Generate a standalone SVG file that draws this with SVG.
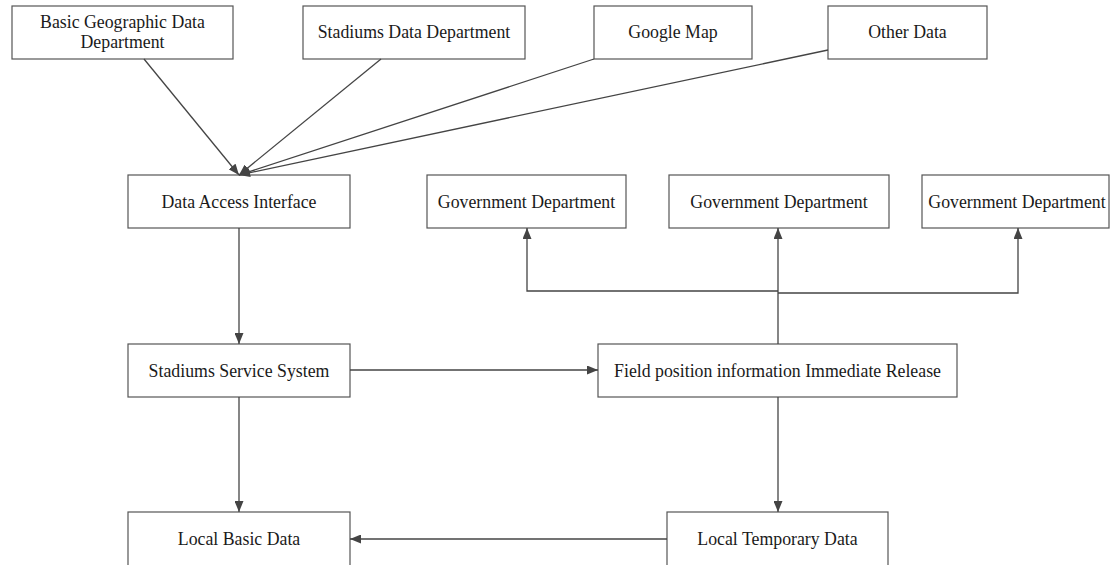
<svg xmlns="http://www.w3.org/2000/svg" width="1110" height="565" viewBox="0 0 1110 565">
  <style>
    .box { fill: #ffffff; stroke: #555555; stroke-width: 1.2; }
    .label { font-family: "Liberation Serif", "Times New Roman", serif; font-size: 17.8px; fill: #1a1a1a; text-anchor: middle; }
    .edge { fill: none; stroke: #444444; stroke-width: 1.3; }
  </style>
  <defs>
    <marker id="arrow" markerUnits="userSpaceOnUse" markerWidth="11" markerHeight="9" refX="11" refY="4.5" orient="auto">
      <path d="M0,0 L11,4.5 L0,9 z" fill="#444444"/>
    </marker>
  </defs>
  <rect width="1110" height="565" fill="#ffffff"/>

  <!-- sources -->
  <g id="basic-geo">
    <rect class="box" x="12" y="6" width="221" height="53"/>
    <text class="label" x="122.5" y="28">Basic Geographic Data</text>
    <text class="label" x="122.5" y="48">Department</text>
  </g>
  <g id="stadiums-data">
    <rect class="box" x="303" y="6" width="222" height="53"/>
    <text class="label" x="414" y="38">Stadiums Data Department</text>
  </g>
  <g id="google-map">
    <rect class="box" x="594" y="6" width="158" height="53"/>
    <text class="label" x="673" y="38">Google Map</text>
  </g>
  <g id="other-data">
    <rect class="box" x="828" y="6" width="159" height="53"/>
    <text class="label" x="907.5" y="38">Other Data</text>
  </g>

  <!-- middle tier -->
  <g id="data-access">
    <rect class="box" x="128" y="175" width="222" height="53"/>
    <text class="label" x="239" y="207.5">Data Access Interface</text>
  </g>
  <g id="gov-1">
    <rect class="box" x="427" y="175" width="199" height="53"/>
    <text class="label" x="526.5" y="207.5">Government Department</text>
  </g>
  <g id="gov-2">
    <rect class="box" x="669" y="175" width="220" height="53"/>
    <text class="label" x="779" y="207.5">Government Department</text>
  </g>
  <g id="gov-3">
    <rect class="box" x="922" y="175" width="187" height="53"/>
    <text class="label" x="1017" y="207.5">Government Department</text>
  </g>

  <g id="service-system">
    <rect class="box" x="128" y="344" width="222" height="53"/>
    <text class="label" x="239" y="376.5">Stadiums Service System</text>
  </g>
  <g id="field-release">
    <rect class="box" x="598" y="344" width="359" height="53"/>
    <text class="label" x="777.5" y="376.5">Field position information Immediate Release</text>
  </g>

  <!-- storage -->
  <g id="local-basic">
    <rect class="box" x="128" y="512" width="222" height="54"/>
    <text class="label" x="239" y="545">Local Basic Data</text>
  </g>
  <g id="local-temp">
    <rect class="box" x="667" y="512" width="221" height="54"/>
    <text class="label" x="777.5" y="545">Local Temporary Data</text>
  </g>

  <g id="connectors">
    <line class="edge" x1="144" y1="59" x2="239" y2="175" marker-end="url(#arrow)"/>
    <line class="edge" x1="381" y1="59" x2="239" y2="175" marker-end="url(#arrow)"/>
    <line class="edge" x1="594" y1="59" x2="239" y2="175" marker-end="url(#arrow)"/>
    <line class="edge" x1="828" y1="50" x2="239" y2="175" marker-end="url(#arrow)"/>

    <line class="edge" x1="239" y1="228" x2="239" y2="344" marker-end="url(#arrow)"/>
    <line class="edge" x1="239" y1="397" x2="239" y2="512" marker-end="url(#arrow)"/>
    <line class="edge" x1="350" y1="370" x2="598" y2="370" marker-end="url(#arrow)"/>
    <line class="edge" x1="778" y1="397" x2="778" y2="512" marker-end="url(#arrow)"/>
    <line class="edge" x1="667" y1="539" x2="350" y2="539" marker-end="url(#arrow)"/>

    <line class="edge" x1="778" y1="344" x2="778" y2="228" marker-end="url(#arrow)"/>
    <polyline class="edge" points="778,291 527,291 527,228" marker-end="url(#arrow)"/>
    <polyline class="edge" points="778,293 1018,293 1018,228" marker-end="url(#arrow)"/>
  </g>
</svg>
